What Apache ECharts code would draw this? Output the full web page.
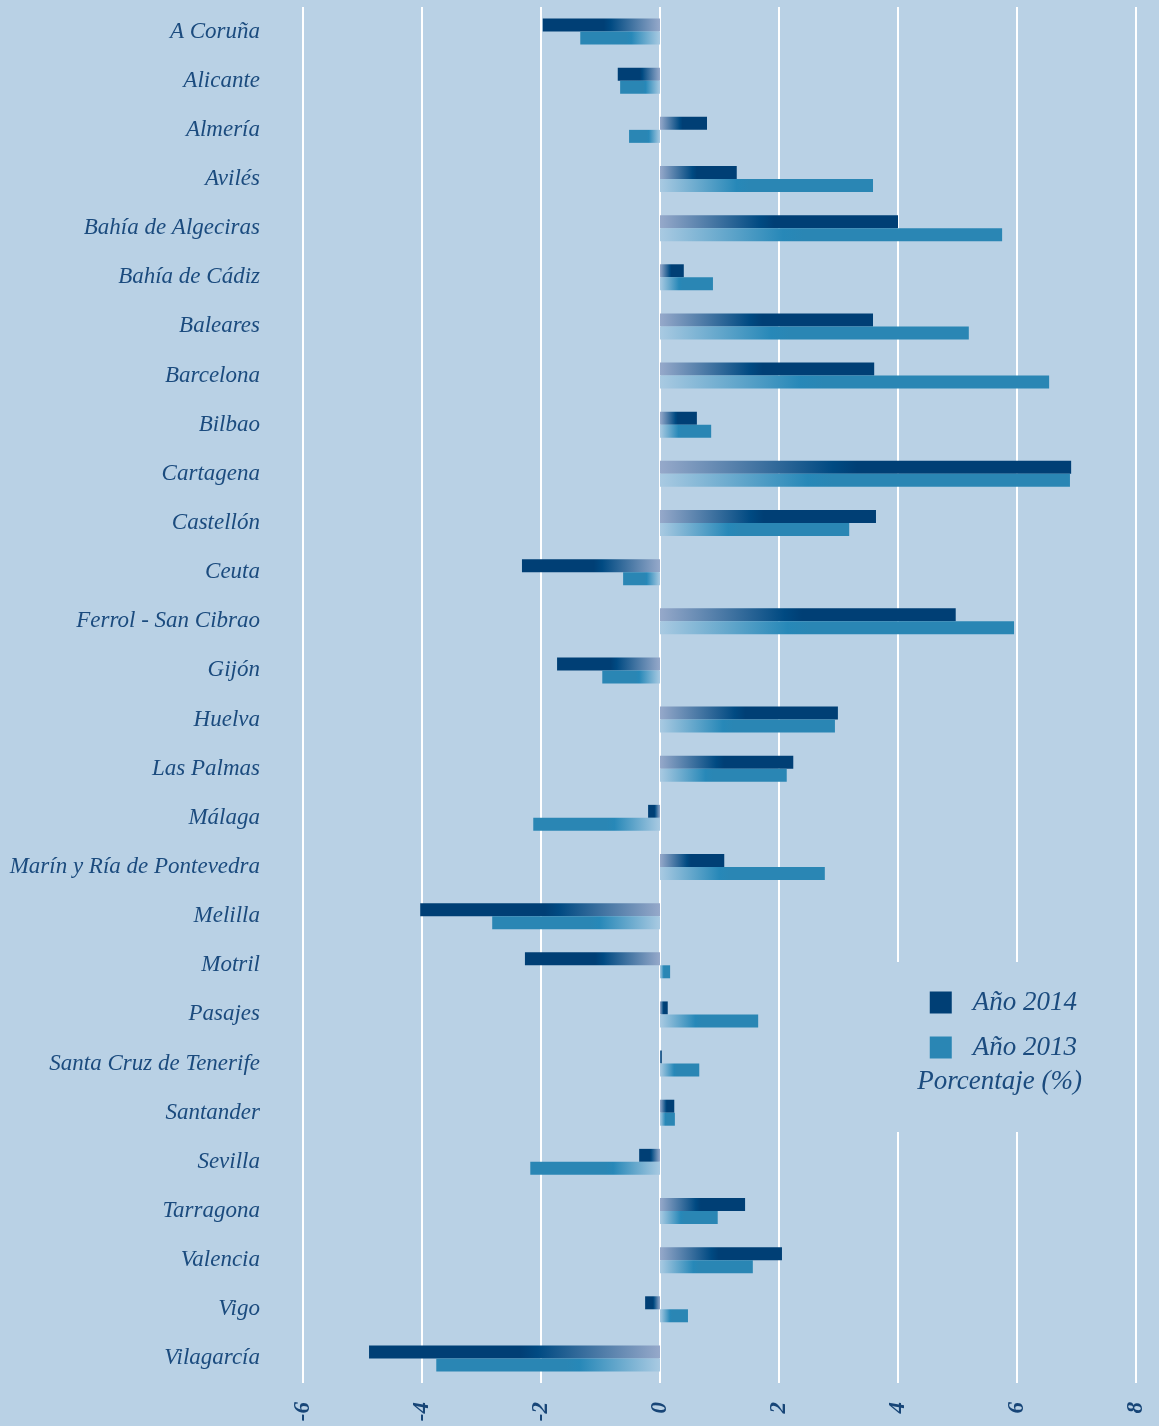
<!DOCTYPE html>
<html>
<head>
<meta charset="utf-8">
<script src="https://cdn.jsdelivr.net/npm/echarts@6/dist/echarts.min.js"></script>
<style>
  html, body { margin: 0; padding: 0; background: #b9d1e5; }
  #chart { width: 1159px; height: 1426px; }
</style>
</head>
<body>
<div id="chart"></div>
<script>
// Port names, top to bottom
const ports = [
  'A Coruña', 'Alicante', 'Almería', 'Avilés', 'Bahía de Algeciras', 'Bahía de Cádiz',
  'Baleares', 'Barcelona', 'Bilbao', 'Cartagena', 'Castellón', 'Ceuta',
  'Ferrol - San Cibrao', 'Gijón', 'Huelva', 'Las Palmas', 'Málaga',
  'Marín y Ría de Pontevedra', 'Melilla', 'Motril', 'Pasajes',
  'Santa Cruz de Tenerife', 'Santander', 'Sevilla', 'Tarragona', 'Valencia',
  'Vigo', 'Vilagarcía'
];

// Percentage change per port
const year2014 = [
  -1.97, -0.71, 0.79, 1.29, 4.00, 0.40,
  3.58, 3.60, 0.62, 6.91, 3.63, -2.32,
  4.97, -1.73, 2.99, 2.24, -0.20,
  1.08, -4.03, -2.27, 0.13,
  0.03, 0.24, -0.35, 1.43, 2.05,
  -0.25, -4.89
];
const year2013 = [
  -1.34, -0.67, -0.52, 3.58, 5.75, 0.89,
  5.19, 6.54, 0.86, 6.89, 3.18, -0.62,
  5.95, -0.97, 2.94, 2.13, -2.13,
  2.77, -2.82, 0.17, 1.65,
  0.66, 0.25, -2.18, 0.97, 1.56,
  0.47, -3.76
];

const xTicks = { min: -6, max: 8, step: 2 };

const BG = '#b9d1e5';
const TEXT = '#1b4b7e';
const FONT = '"Liberation Serif", "DejaVu Serif", serif';

// Each bar fades from a pale tint at zero into its solid colour
function fade(value, pale, mid, solid, stop) {
  const stops = [
    { offset: 0, color: pale },
    { offset: stop, color: mid },
    { offset: Math.min(stop + 0.06, 1), color: solid },
    { offset: 1, color: solid }
  ];
  const s = value >= 0 ? stops : stops.map(c => ({ offset: 1 - c.offset, color: c.color })).reverse();
  return new echarts.graphic.LinearGradient(0, 0, 1, 0, s);
}

function items(values, pale, mid, solid, stop) {
  return values.map(v => ({ value: v, itemStyle: { color: fade(v, pale, mid, solid, stop) } }));
}

const chart = echarts.init(document.getElementById('chart'));
chart.setOption({
  backgroundColor: BG,
  animation: false,
  grid: { left: 303, right: 23, top: 7, bottom: 43, containLabel: false },
  xAxis: {
    type: 'value',
    min: xTicks.min, max: xTicks.max, interval: xTicks.step,
    axisLine: { show: false },
    axisTick: { show: false },
    splitLine: { show: true, lineStyle: { color: '#ffffff', width: 2 } },
    axisLabel: {
      rotate: 90, margin: 19,
      color: '#174577', fontFamily: FONT, fontStyle: 'italic', fontWeight: 'bold', fontSize: 23
    }
  },
  yAxis: {
    type: 'category',
    data: ports,
    inverse: true,
    axisLine: { show: false, onZero: false },
    axisTick: { show: false },
    splitLine: { show: false },
    axisLabel: {
      margin: 43,
      color: TEXT, fontFamily: FONT, fontStyle: 'italic', fontSize: 23
    }
  },
  legend: {
    orient: 'vertical',
    right: 77, top: 984,
    itemWidth: 22, itemHeight: 22, itemGap: 18,
    icon: 'rect',
    z: 12,
    textStyle: {
      color: TEXT, fontFamily: FONT, fontStyle: 'italic', fontSize: 27,
      padding: [0, 0, 0, 16]
    },
    data: ['Año 2014', 'Año 2013']
  },
  graphic: [
    {
      type: 'rect', z: 10,
      shape: { x: 895, y: 962, width: 210, height: 170 },
      style: { fill: BG }
    },
    {
      type: 'text', z: 11,
      right: 77, top: 1068,
      style: {
        text: 'Porcentaje (%)',
        fill: TEXT, font: 'italic 27px ' + FONT
      }
    }
  ],
  series: [
    {
      name: 'Año 2014', type: 'bar',
      barWidth: 13, barGap: '0%',
      itemStyle: { color: '#003f75' },
      data: items(year2014, '#96a9ca', '#004a82', '#003f75', 0.42)
    },
    {
      name: 'Año 2013', type: 'bar',
      barWidth: 13, barGap: '0%',
      itemStyle: { color: '#2a86b4' },
      data: items(year2013, '#a9cae2', '#2788b8', '#2a86b4', 0.36)
    }
  ]
});
</script>
</body>
</html>
